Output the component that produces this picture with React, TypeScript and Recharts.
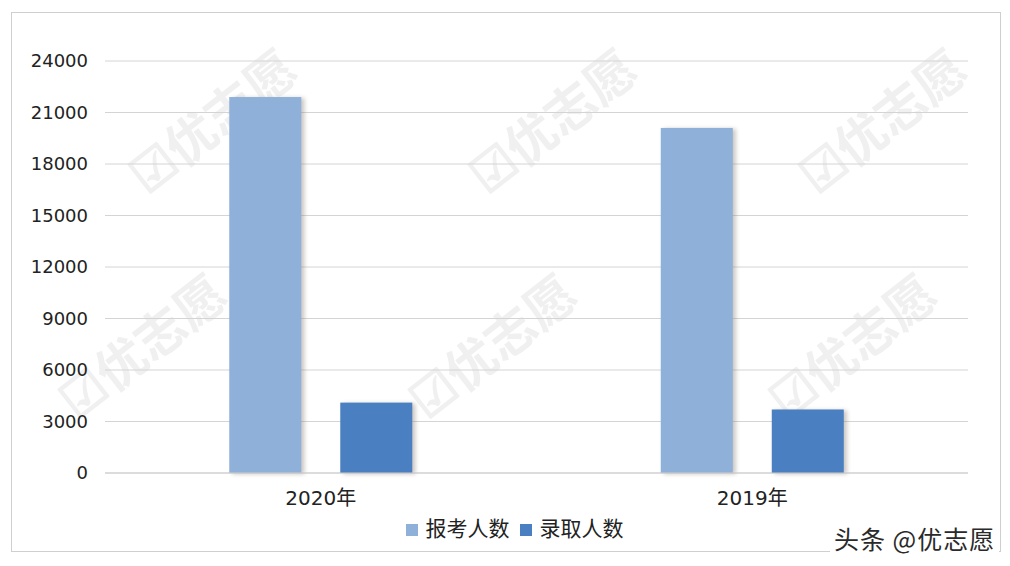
import { Bar, BarChart, CartesianGrid, Legend, XAxis, YAxis } from 'recharts';

const years = ['2020年', '2019年'];
const applicants = [21900, 20100];
const admitted = [4100, 3700];
const yTicks = [0, 3000, 6000, 9000, 12000, 15000, 18000, 21000, 24000];
const seriesOrder = ['报考人数', '录取人数'];

const data = years.map((year, i) => ({
  year,
  报考人数: applicants[i],
  录取人数: admitted[i],
}));

const font = '"Noto Sans CJK SC", "Noto Sans", sans-serif';
const numFont = '"DejaVu Sans", "Noto Sans CJK SC", sans-serif';

const marks = [
  [200, 105], [540, 105], [870, 105],
  [130, 330], [480, 330], [840, 330],
];

const ShadowBar = (props: any) => {
  const { x, y, width, height, fill } = props;
  if (!height || height <= 0) return null;
  return (
    <g>
      <rect x={x + 3} y={y + 1} width={width} height={height} fill="#8a7f78" opacity={0.45} filter="url(#barShadow)" />
      <rect x={x} y={y} width={width} height={height} fill={fill} />
    </g>
  );
};

export default function App() {
  return (
    <div style={{ position: 'relative', width: 994, height: 550, fontFamily: font, overflow: 'hidden' }}>
      <div
        style={{
          position: 'absolute',
          left: 3,
          top: 4,
          width: 988,
          height: 538,
          border: '1px solid #cfcfcf',
        }}
      />
      {marks.map(([mx, my], i) => (
        <div
          key={i}
          style={{
            position: 'absolute',
            left: mx - 95,
            top: my - 30,
            fontSize: 50,
            color: '#f0f0f0',
            transform: 'rotate(-38deg)',
            whiteSpace: 'nowrap',
            fontWeight: 700,
          }}
        >
          ☑优志愿
        </div>
      ))}
      <div style={{ position: 'absolute', left: 0, top: 0 }}>
        <BarChart
          width={994}
          height={550}
          data={data}
          margin={{ top: 53, right: 34, bottom: 16, left: 7 }}
          barCategoryGap="28.8%"
          barGap={39}
        >
          <defs>
            <filter id="barShadow" x="-20%" y="-20%" width="140%" height="140%">
              <feGaussianBlur stdDeviation="2" />
            </filter>
          </defs>
          <CartesianGrid vertical={false} stroke="#d4d4d4" />
          <XAxis
            dataKey="year"
            axisLine={{ stroke: '#cfcfcf' }}
            tickLine={false}
            tickMargin={12}
            height={39}
            tick={{ fill: '#222', fontSize: 20, fontFamily: numFont }}
          />
          <YAxis
            domain={[0, 24000]}
            ticks={yTicks}
            axisLine={false}
            tickLine={false}
            tickMargin={11}
            width={90}
            tick={{ fill: '#222', fontSize: 18, fontFamily: numFont }}
          />
          <Legend
            verticalAlign="bottom"
            align="center"
            iconType="square"
            iconSize={12}
            itemSorter={(item: any) => seriesOrder.indexOf(item.dataKey)}
            wrapperStyle={{ height: 30, fontSize: 21, fontFamily: font, left: 35 }}
            formatter={(value: string) => <span style={{ color: '#222', marginLeft: 4 }}>{value}</span>}
          />
          <Bar dataKey="报考人数" fill="#8fb0d9" shape={ShadowBar} isAnimationActive={false} />
          <Bar dataKey="录取人数" fill="#4a7fc1" shape={ShadowBar} isAnimationActive={false} />
        </BarChart>
      </div>
      <div
        style={{
          position: 'absolute',
          left: 822,
          top: 513,
          fontSize: 25,
          letterSpacing: 1,
          color: '#2a2a2a',
          background: '#fff',
          padding: '0 4px',
          lineHeight: '34px',
        }}
      >
        头条 @优志愿
      </div>
    </div>
  );
}
